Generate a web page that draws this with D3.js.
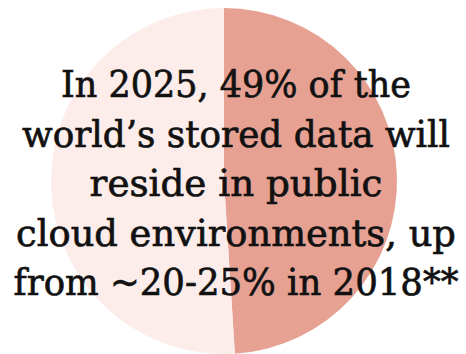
<!DOCTYPE html>
<html>
<head>
<meta charset="utf-8">
<script src="https://cdn.jsdelivr.net/npm/d3@7"></script>
<style>
  html, body { margin: 0; padding: 0; background: #fff; }
  svg { display: block; }
</style>
</head>
<body>
<div id="chart"></div>
<script>
// Share of world's stored data in public cloud, 2025
const categories = ['Public cloud', 'Other'];
const shares = [49, 51];
const sliceColors = ['#e6a193', '#fcedeb'];

const captionLines = [
  'In 2025, 49% of the',
  'world\u2019s stored data will',
  'reside in public',
  'cloud environments, up',
  'from ~20-25% in 2018**'
];
// target rendered width per line (px)
const lineWidths = [350, 428, 293, 440, 445];

const width = 466, height = 354;
const cx = 224, cy = 181, radius = 173;

const svg = d3.select('#chart')
  .append('svg')
  .attr('width', width)
  .attr('height', height);

const pie = d3.pie().sort(null).value(d => d.value);
const arc = d3.arc().innerRadius(0).outerRadius(radius);

const data = categories.map((c, i) => ({ name: c, value: shares[i] }));

svg.append('g')
  .attr('transform', `translate(${cx},${cy})`)
  .selectAll('path')
  .data(pie(data))
  .join('path')
  .attr('d', arc)
  .attr('fill', (d, i) => sliceColors[i]);

// Caption — each line squeezed horizontally to the width it has in the original
const textX = 236, firstBaseline = 97, lineGap = 49.5;
svg.append('g')
  .selectAll('text')
  .data(captionLines)
  .join('text')
  .attr('text-anchor', 'middle')
  .attr('font-family', '"DejaVu Serif", serif')
  .attr('font-size', 38)
  .attr('fill', '#111')
  .attr('stroke', '#111')
  .attr('stroke-width', 0.7)
  .text(d => d)
  .attr('transform', function (d, i) {
    const natural = this.getComputedTextLength();
    const sx = lineWidths[i] / natural;
    return `translate(${textX},${firstBaseline + i * lineGap}) scale(${sx},1)`;
  });
</script>
</body>
</html>
